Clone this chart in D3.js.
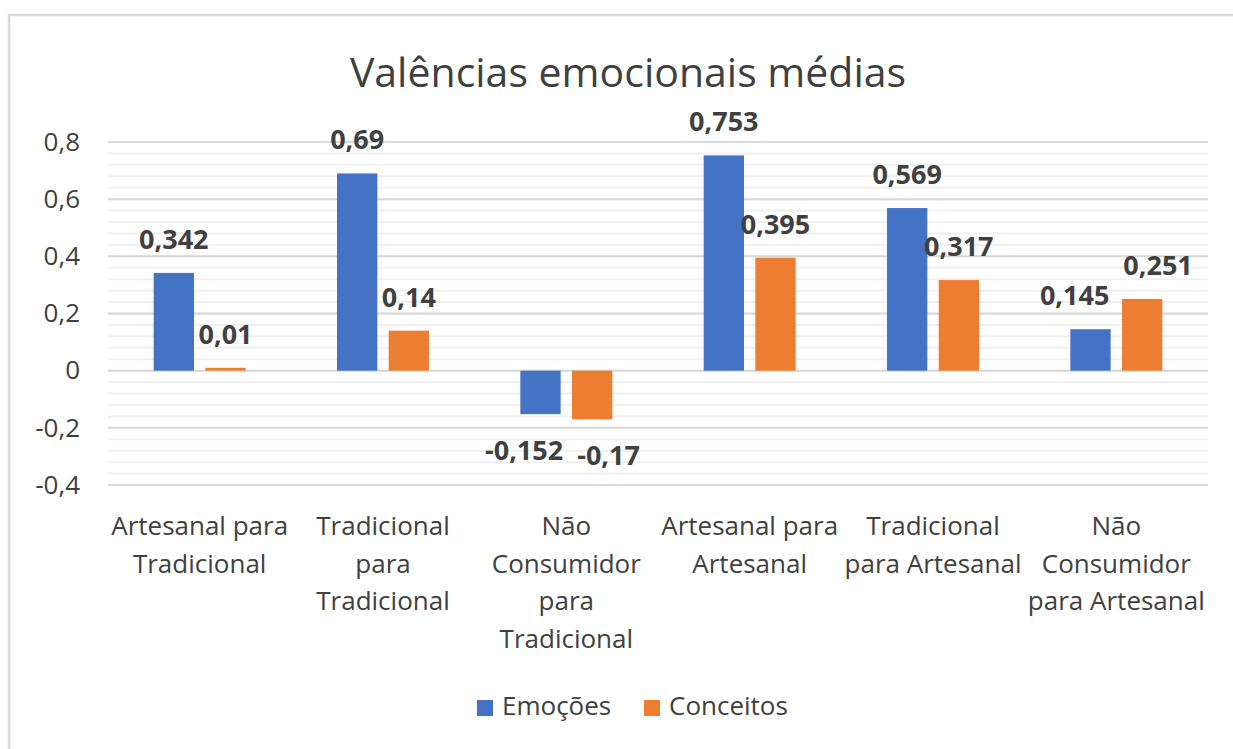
<html>
<head>
<meta charset="utf-8">
<style>
  body { margin: 0; background: #fff; }
  text { font-family: "Open Sans", sans-serif; fill: #404040; }
</style>
</head>
<body>
<svg id="chart" width="1233" height="749"></svg>
<script src="https://d3js.org/d3.v7.min.js" charset="utf-8"></script>
<script>
    // data
    let categories = [
        "Artesanal para\nTradicional",
        "Tradicional\npara\nTradicional",
        "Não\nConsumidor\npara\nTradicional",
        "Artesanal para\nArtesanal",
        "Tradicional\npara Artesanal",
        "Não\nConsumidor\npara Artesanal"
    ]
    let series = ["Emoções", "Conceitos"]
    let emocoes = [0.342, 0.69, -0.152, 0.753, 0.569, 0.145]
    let conceitos = [0.01, 0.14, -0.17, 0.395, 0.317, 0.251]
    let yTicks = [-0.4, -0.2, 0, 0.2, 0.4, 0.6, 0.8]
    let colors = ["#4472c4", "#ed7d31"]

    let svg = d3.select("#chart")
    let comma = v => String(v).replace(".", ",")

    // outer frame
    svg.append("rect")
        .attr("x", 9).attr("y", 15)
        .attr("width", 1240).attr("height", 760)
        .attr("fill", "none").attr("stroke", "#d9d9d9").attr("stroke-width", 2.5)

    svg.append("text")
        .attr("x", 628).attr("y", 87)
        .attr("text-anchor", "middle")
        .style("font-size", "41px")
        .text("Valências emocionais médias")

    let left = 108, right = 1208
    let y = d3.scaleLinear().domain([-0.4, 0.8]).range([485, 142])
    let x0 = d3.scaleBand().domain(categories).range([left, right])
    let x1 = d3.scaleBand().domain(series).range([0, 92]).paddingInner(0.22)

    // minor gridlines
    let minor = d3.range(-0.4, 0.8001, 0.04).map(v => +v.toFixed(2))
    svg.append("g").selectAll("line").data(minor).enter()
        .append("line")
        .attr("x1", left).attr("x2", right)
        .attr("y1", d => y(d)).attr("y2", d => y(d))
        .attr("stroke", "#f0f0f0").attr("stroke-width", 2)

    // major gridlines
    svg.append("g").selectAll("line").data(yTicks).enter()
        .append("line")
        .attr("x1", left).attr("x2", right)
        .attr("y1", d => y(d)).attr("y2", d => y(d))
        .attr("stroke", "#d9d9d9").attr("stroke-width", 2)

    let yAxis = d3.axisLeft(y).tickValues(yTicks).tickSize(0).tickPadding(28).tickFormat(comma)
    let yg = svg.append("g").attr("transform", `translate(${left},0)`).call(yAxis)
    yg.select(".domain").remove()
    yg.selectAll("text").style("font-size", "26px").attr("fill", "#404040")

    let rows = categories.map((c, i) => [
        {cat: c, s: series[0], v: emocoes[i]},
        {cat: c, s: series[1], v: conceitos[i]}
    ]).flat()

    let groupOffset = (x0.bandwidth() - 92) / 2
    let barX = d => x0(d.cat) + groupOffset + x1(d.s)

    svg.append("g").selectAll("rect").data(rows).enter()
        .append("rect")
        .attr("x", barX)
        .attr("width", x1.bandwidth())
        .attr("y", d => Math.min(y(d.v), y(0)))
        .attr("height", d => Math.abs(y(d.v) - y(0)))
        .attr("fill", d => colors[series.indexOf(d.s)])

    let labels = svg.append("g").selectAll("text").data(rows).enter()
        .append("text")
        .attr("x", d => barX(d) + x1.bandwidth() / 2)
        .attr("y", d => d.v >= 0 ? y(d.v) - 24 : y(d.v) + 46)
        .attr("text-anchor", "middle")
        .style("font-size", "27px").style("font-weight", "bold")
        .attr("fill", "#000")
        .text(d => comma(d.v))

    // push apart labels of the same group that collide
    let nodes = labels.nodes()
    for (let i = 0; i < nodes.length; i += 2) {
        let a = nodes[i].getBBox(), b = nodes[i + 1].getBBox()
        let pad = 14
        let overlapX = (a.x + a.width + pad) - b.x
        let overlapY = Math.min(a.y + a.height, b.y + b.height) - Math.max(a.y, b.y) + pad
        if (overlapX > 0 && overlapY > 0) {
            d3.select(nodes[i]).attr("x", +nodes[i].getAttribute("x") - overlapX / 2)
            d3.select(nodes[i + 1]).attr("x", +nodes[i + 1].getAttribute("x") + overlapX / 2)
        }
    }

    // category labels
    let catG = svg.append("g")
    categories.forEach(c => {
        let t = catG.append("text")
            .attr("text-anchor", "middle")
            .style("font-size", "26px")
        c.split("\n").forEach((line, k) => {
            t.append("tspan")
                .attr("x", x0(c) + x0.bandwidth() / 2)
                .attr("y", 535 + k * 37.5)
                .text(line)
        })
    })

    // legend
    let legend = svg.append("g")
    let lx = [477, 644]
    series.forEach((s, i) => {
        legend.append("rect")
            .attr("x", lx[i]).attr("y", 700)
            .attr("width", 16).attr("height", 16)
            .attr("fill", colors[i])
        legend.append("text")
            .attr("x", lx[i] + 25).attr("y", 715)
            .style("font-size", "26px")
            .text(s)
    })
</script>
</body>
</html>
